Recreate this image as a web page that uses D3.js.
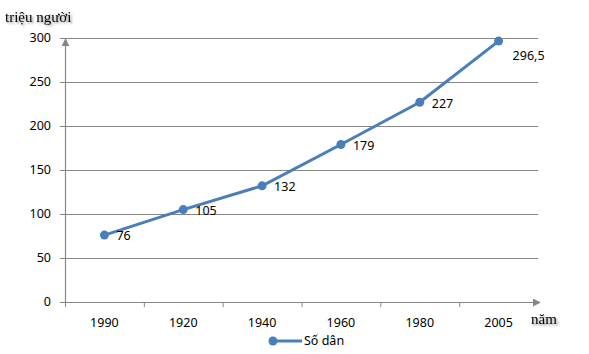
<!DOCTYPE html>
<html>
<head>
<meta charset="utf-8">
<script src="https://cdn.jsdelivr.net/npm/d3@7"></script>
<style>
  body { margin: 0; background: #fff; }
  svg { display: block; }
</style>
</head>
<body>
<div id="chart"></div>
<script>
const years = ["1990", "1920", "1940", "1960", "1980", "2005"];
const population = [76, 105, 132, 179, 227, 296.5];
const yTicks = [0, 50, 100, 150, 200, 250, 300];
const seriesName = "Số dân";

const W = 589, H = 354;
const plotLeft = 65, plotRight = 538, plotTop = 38, plotBottom = 302;
const blue = "#4A7EBB", grey = "#868686";

const svg = d3.select("#chart").append("svg")
    .attr("width", W)
    .attr("height", H);

const defs = svg.append("defs");
const shadow = defs.append("filter").attr("id", "shadow")
    .attr("x", "-20%").attr("y", "-40%").attr("width", "150%").attr("height", "200%");
shadow.append("feDropShadow")
    .attr("dx", 1.5).attr("dy", 1.5).attr("stdDeviation", 1.2)
    .attr("flood-color", "#000").attr("flood-opacity", 0.45);

defs.append("marker").attr("id", "arrow")
    .attr("viewBox", "0 0 10 10").attr("refX", 9).attr("refY", 5)
    .attr("markerWidth", 8).attr("markerHeight", 8)
    .attr("markerUnits", "userSpaceOnUse")
    .attr("orient", "auto")
    .append("path").attr("d", "M0,0L10,5L0,10Z").attr("fill", grey);

const x = d3.scaleBand().domain(years).range([plotLeft, plotRight]);
const y = d3.scaleLinear().domain([0, 300]).range([plotBottom, plotTop]);

// gridlines
svg.append("g").selectAll("line")
    .data(yTicks.filter(d => d > 0))
    .enter().append("line")
    .attr("x1", plotLeft - 5).attr("x2", plotRight)
    .attr("y1", d => y(d) + 0.5).attr("y2", d => y(d) + 0.5)
    .attr("stroke", grey).attr("stroke-width", 1);

// y tick labels + ticks
const yAxis = svg.append("g");
yAxis.selectAll("text").data(yTicks).enter().append("text")
    .attr("x", 51).attr("y", d => y(d))
    .attr("dy", "0.35em")
    .attr("text-anchor", "end")
    .style("font-family", "'Noto Sans', sans-serif")
    .style("font-size", "12.5px")
    .text(d => d);
yAxis.append("line")
    .attr("x1", plotLeft - 5).attr("x2", plotLeft)
    .attr("y1", plotBottom + 0.5).attr("y2", plotBottom + 0.5)
    .attr("stroke", grey);

// y axis with arrow
svg.append("line")
    .attr("x1", plotLeft + 0.5).attr("x2", plotLeft + 0.5)
    .attr("y1", plotBottom).attr("y2", plotTop + 1)
    .attr("stroke", grey).attr("stroke-width", 1.2)
    .attr("marker-end", "url(#arrow)");

// x axis with arrow
svg.append("line")
    .attr("x1", plotLeft).attr("x2", plotRight + 2)
    .attr("y1", plotBottom + 0.5).attr("y2", plotBottom + 0.5)
    .attr("stroke", grey).attr("stroke-width", 1.2)
    .attr("marker-end", "url(#arrow)");

svg.append("g").selectAll("line")
    .data(years.map(d => x(d)))
    .enter().append("line")
    .attr("x1", d => d + 0.5).attr("x2", d => d + 0.5)
    .attr("y1", plotBottom).attr("y2", plotBottom + 5)
    .attr("stroke", grey);

svg.append("g").selectAll("text")
    .data(years).enter().append("text")
    .attr("x", d => x(d) + x.bandwidth() / 2)
    .attr("y", 323)
    .attr("dy", "0.35em")
    .attr("text-anchor", "middle")
    .style("font-family", "'Noto Sans', sans-serif")
    .style("font-size", "12.5px")
    .text(d => d);

// series line
const pts = years.map((d, i) => ({ year: d, value: population[i] }));
const line = d3.line()
    .x(d => x(d.year) + x.bandwidth() / 2)
    .y(d => y(d.value));

svg.append("path")
    .datum(pts)
    .attr("fill", "none")
    .attr("stroke", blue)
    .attr("stroke-width", 3)
    .attr("stroke-linejoin", "round")
    .attr("d", line);

svg.append("g").selectAll("circle")
    .data(pts).enter().append("circle")
    .attr("cx", d => x(d.year) + x.bandwidth() / 2)
    .attr("cy", d => y(d.value))
    .attr("r", 4.5)
    .attr("fill", blue);

// data labels
svg.append("g").selectAll("text")
    .data(pts).enter().append("text")
    .attr("x", (d, i) => x(d.year) + x.bandwidth() / 2 + (i === pts.length - 1 ? 14 : 12))
    .attr("y", (d, i) => y(d.value) + (i === pts.length - 1 ? 15 : 1))
    .attr("dy", "0.35em")
    .style("font-family", "'Noto Sans', sans-serif")
    .style("font-size", "12.5px")
    .text(d => String(d.value).replace(".", ","));

// axis titles
svg.append("text")
    .attr("x", 5).attr("y", 22)
    .attr("filter", "url(#shadow)")
    .style("font-family", "'Liberation Serif', serif")
    .style("font-size", "15px")
    .text("triệu người");

svg.append("text")
    .attr("x", 531).attr("y", 324)
    .attr("filter", "url(#shadow)")
    .style("font-family", "'Liberation Serif', serif")
    .style("font-size", "15px")
    .text("năm");

// legend
const lg = svg.append("g");
lg.append("line")
    .attr("x1", 272).attr("x2", 302)
    .attr("y1", 341).attr("y2", 341)
    .attr("stroke", blue).attr("stroke-width", 3);
lg.append("circle").attr("cx", 273).attr("cy", 341).attr("r", 4.5).attr("fill", blue);
lg.append("text")
    .attr("x", 304).attr("y", 341)
    .attr("dy", "0.35em")
    .style("font-family", "'Noto Sans', sans-serif")
    .style("font-size", "12.5px")
    .text(seriesName);
</script>
</body>
</html>
